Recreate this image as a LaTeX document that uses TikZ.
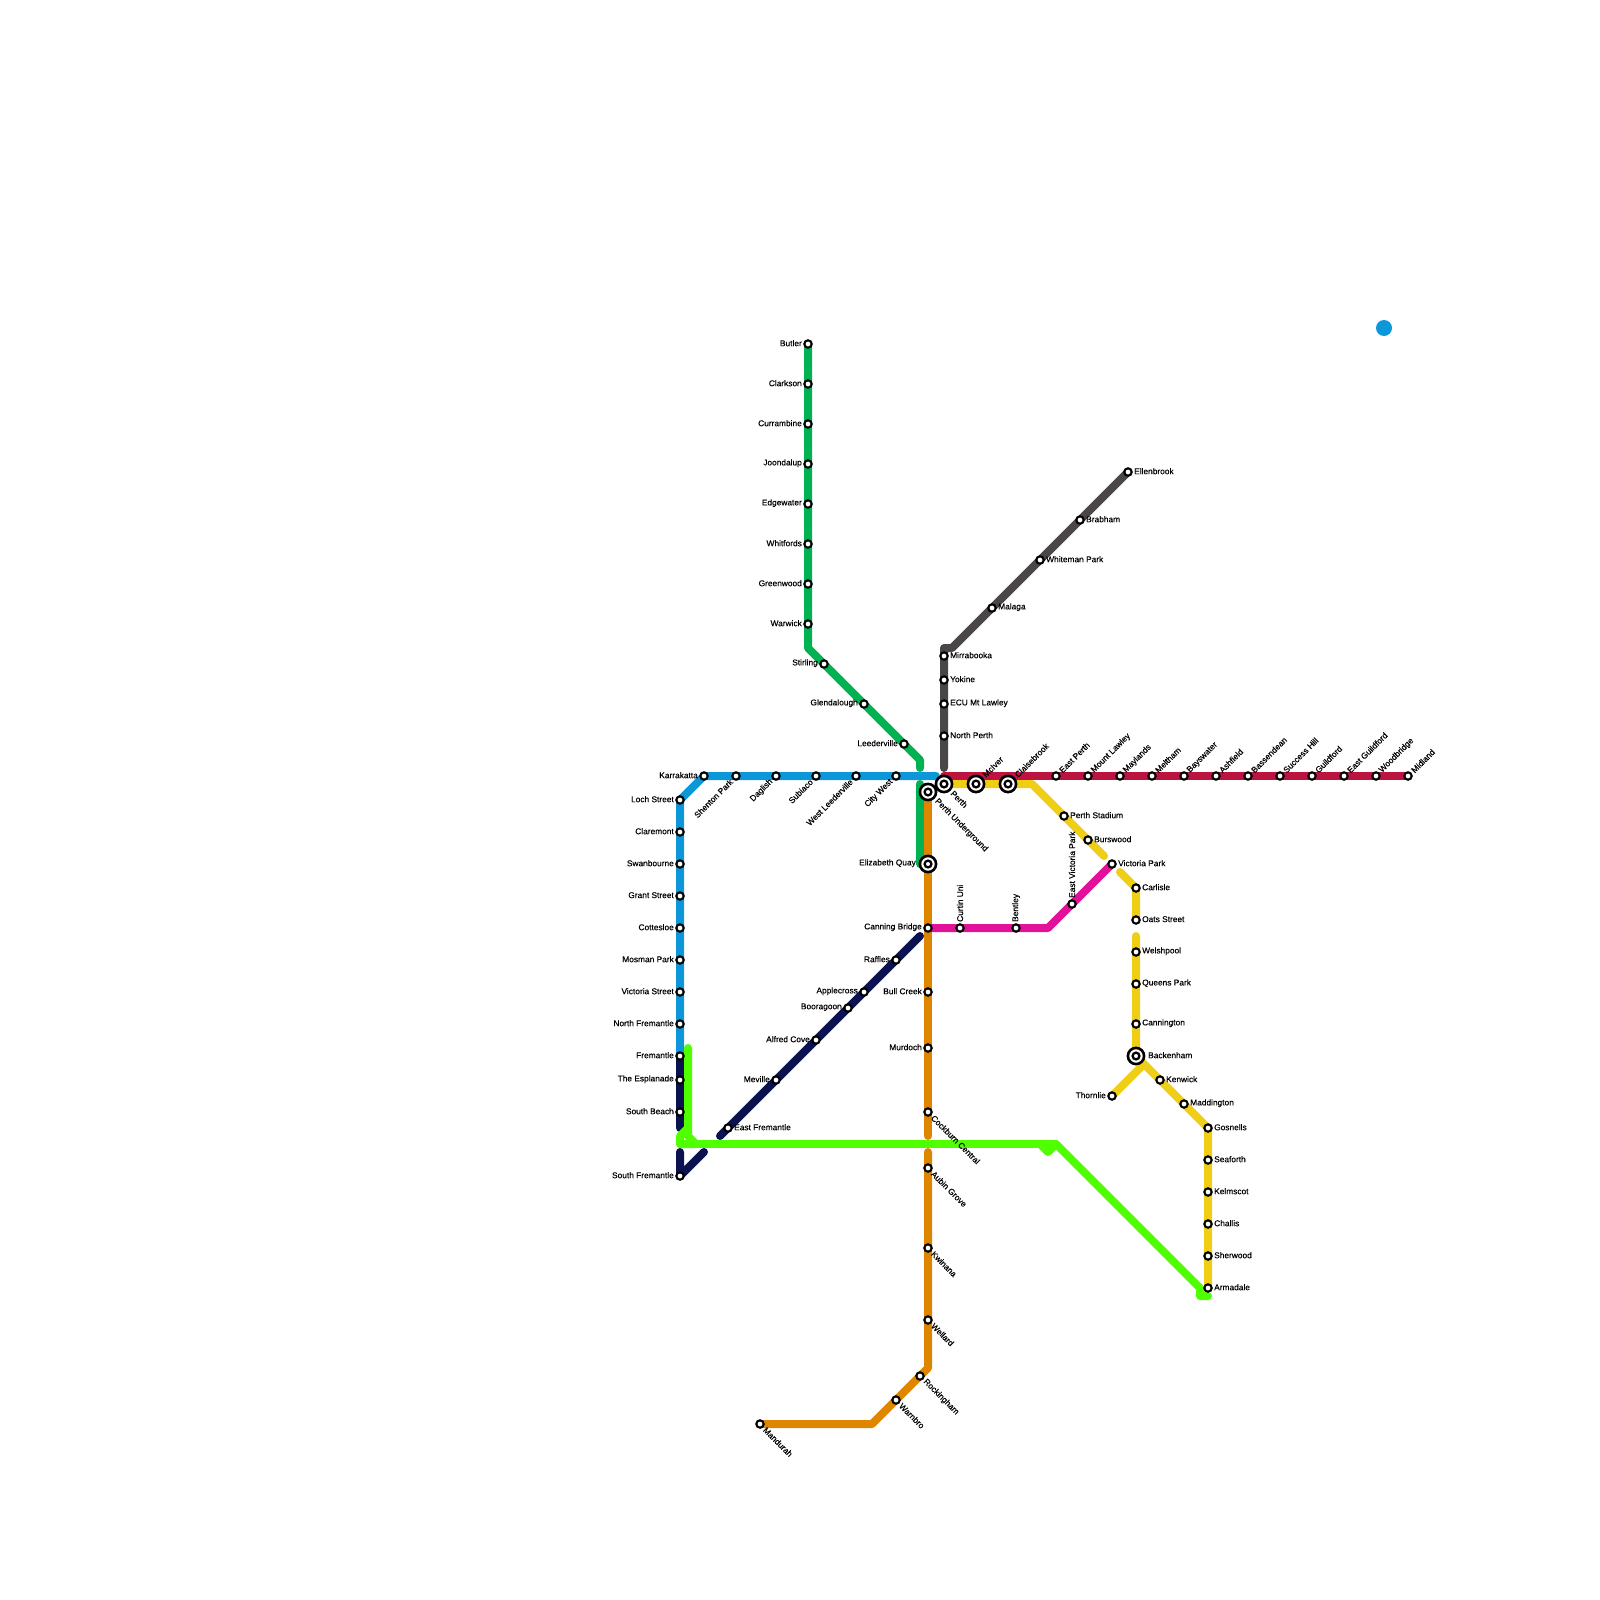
\documentclass[tikz,border=0pt]{standalone}
\usepackage{fontspec}
\setmainfont[FakeBold=0.35]{Liberation Sans}
\definecolor{lgreen}{HTML}{00B251}
\definecolor{lblue}{HTML}{0C98D8}
\definecolor{lred}{HTML}{BC1440}
\definecolor{lyellow}{HTML}{F0CE15}
\definecolor{lgrey}{HTML}{4A4546}
\definecolor{lorange}{HTML}{DF8600}
\definecolor{lmag}{HTML}{E2119A}
\definecolor{lnavy}{HTML}{0A1250}
\definecolor{llime}{HTML}{50FF00}
\tikzset{
 route/.style={line width=8pt,line cap=round,line join=round},
 stn/.style={circle,draw=black,fill=white,line width=2.1pt,minimum size=7.4pt,inner sep=0pt},
 hubo/.style={circle,draw=black,fill=white,line width=2.6pt,minimum size=16.2pt,inner sep=0pt},
 hubi/.style={circle,draw=black,fill=white,line width=2.3pt,minimum size=6.8pt,inner sep=0pt},
 lab/.style={font=\fontsize{8.35}{9}\selectfont,text=black,inner sep=0pt},
 lR/.style={lab,anchor=west,xshift=6pt,yshift=.8pt},
 lL/.style={lab,anchor=east,xshift=-6pt,yshift=.8pt},
 lU/.style={lab,xshift=0pt,yshift=6pt,rotate=90,anchor=west},
 lUR/.style={lab,xshift=4.5pt,yshift=4.5pt,rotate=45,anchor=west},
 lDR/.style={lab,xshift=4.5pt,yshift=-4.5pt,rotate=-45,anchor=west},
 lDL/.style={lab,xshift=-4.5pt,yshift=-4.5pt,rotate=45,anchor=east},
 lURh/.style={lab,xshift=8pt,yshift=8pt,rotate=45,anchor=west},
 lDRh/.style={lab,xshift=8pt,yshift=-8pt,rotate=-45,anchor=west},
}
\newcommand{\pt}[3]{\coordinate (#1) at (#2,#3);}
\newcommand{\st}[3]{\node[stn] (#1m) at (#1) {}; \node[#2] (#1t) at (#1) {#3};}
\newcommand{\hub}[3]{\node[hubo] (#1m) at (#1) {}; \node[hubi] (#1i) at (#1) {}; \node[#2] (#1t) at (#1) {#3};}
\begin{document}
\begin{tikzpicture}[x=1pt,y=-1pt]
\useasboundingbox (0,0) rectangle (1600,1600);
% green
\pt{butler}{808}{344}\pt{clarkson}{808}{384}\pt{currambine}{808}{424}\pt{joondalup}{808}{464}
\pt{edgewater}{808}{504}\pt{whitfords}{808}{544}\pt{greenwood}{808}{584}\pt{warwick}{808}{624}
\pt{gA}{808}{648}\pt{stirling}{824}{664}\pt{glendalough}{864}{704}\pt{leederville}{904}{744}
\pt{gB}{920}{760}\pt{gC}{920}{768}\pt{gD}{920}{784}\pt{gE}{920}{864}
% blue
\pt{karrakatta}{704}{776}\pt{shenton}{736}{776}\pt{daglish}{776}{776}\pt{subiaco}{816}{776}
\pt{westleed}{856}{776}\pt{citywest}{896}{776}\pt{blueend}{936}{776}
\pt{loch}{680}{800}\pt{claremont}{680}{832}\pt{swanbourne}{680}{864}\pt{grant}{680}{896}
\pt{cottesloe}{680}{928}\pt{mosman}{680}{960}\pt{vicst}{680}{992}\pt{northfre}{680}{1024}
\pt{fremantle}{680}{1056}
% navy
\pt{esplanade}{680}{1080}\pt{southbeach}{680}{1112}\pt{nA}{680}{1128}
\pt{nB}{680}{1152}\pt{southfre}{680}{1176}\pt{nC}{704}{1152}
\pt{nD}{720}{1136}\pt{eastfre}{728}{1128}\pt{meville}{776}{1080}\pt{alfred}{816}{1040}
\pt{booragoon}{848}{1008}\pt{applecross}{864}{992}\pt{raffles}{896}{960}\pt{nE}{920}{936}
% lime
\pt{lA}{688}{1048}\pt{lB}{688}{1136}\pt{lC}{696}{1144}\pt{lD}{680}{1144}\pt{lE}{680}{1136}\pt{lF}{688}{1128}
\pt{lG}{1040}{1144}\pt{lH}{1048}{1152}\pt{lI}{1056}{1144}\pt{lJ}{1200}{1288}\pt{lK}{1200}{1296}\pt{lL}{1208}{1296}
% red
\pt{perth}{944}{784}\pt{rA}{944}{776}\pt{eastperth}{1056}{776}\pt{mtlawley}{1088}{776}\pt{maylands}{1120}{776}
\pt{meltham}{1152}{776}\pt{bayswater}{1184}{776}\pt{ashfield}{1216}{776}\pt{bassendean}{1248}{776}
\pt{success}{1280}{776}\pt{guildford}{1312}{776}\pt{eastguild}{1344}{776}\pt{woodbridge}{1376}{776}\pt{midland}{1408}{776}
% yellow
\pt{mciver}{976}{784}\pt{claisebrook}{1008}{784}\pt{yA}{1032}{784}\pt{stadium}{1064}{816}\pt{burswood}{1088}{840}
\pt{yB}{1104}{856}\pt{vicpark}{1112}{864}\pt{yC}{1120}{872}\pt{carlisle}{1136}{888}\pt{oats}{1136}{920}
\pt{yD}{1136}{936}\pt{welshpool}{1136}{952}\pt{queens}{1136}{984}\pt{cannington}{1136}{1024}\pt{backenham}{1136}{1056}
\pt{yE}{1144}{1064}\pt{thornlie}{1112}{1096}\pt{kenwick}{1160}{1080}\pt{maddington}{1184}{1104}\pt{gosnells}{1208}{1128}
\pt{seaforth}{1208}{1160}\pt{kelmscot}{1208}{1192}\pt{challis}{1208}{1224}\pt{sherwood}{1208}{1256}\pt{armadale}{1208}{1288}
% grey
\pt{ellenbrook}{1128}{472}\pt{brabham}{1080}{520}\pt{whiteman}{1040}{560}\pt{malaga}{992}{608}\pt{kA}{952}{648}\pt{kB}{944}{648}
\pt{mirrabooka}{944}{656}\pt{yokine}{944}{680}\pt{ecu}{944}{704}\pt{northperth}{944}{736}\pt{kC}{944}{768}
% orange
\pt{perthu}{928}{792}\pt{equay}{928}{864}\pt{canning}{928}{928}\pt{bullcreek}{928}{992}\pt{murdoch}{928}{1048}
\pt{cockburn}{928}{1112}\pt{oA}{928}{1136}\pt{oB}{928}{1152}\pt{aubin}{928}{1168}\pt{kwinana}{928}{1248}\pt{wellard}{928}{1320}
\pt{oC}{928}{1368}\pt{rockingham}{920}{1376}\pt{warnbro}{896}{1400}\pt{oD}{872}{1424}\pt{mandurah}{760}{1424}
% magenta
\pt{curtin}{960}{928}\pt{bentley}{1016}{928}\pt{mA}{1048}{928}\pt{eastvic}{1072}{904}
\pt{bluedot}{1384}{328}

\draw[route,lnavy] (fremantle)--(nA);
\draw[route,lnavy] (nB)--(southfre)--(nC);
\draw[route,lnavy] (nD)--(nE);
\draw[route,lblue] (blueend)--(karrakatta)--(loch)--(fremantle);
\draw[route,lgreen] (butler)--(gA)--(gB)--(gC);
\draw[route,lgreen] (gD)--(gE);
\draw[route,lgrey] (ellenbrook)--(kA)--(kB)--(kC);
\draw[route,lorange] (perthu)--(oA);
\draw[route,lorange] (oB)--(oC)--(oD)--(mandurah);
\draw[route,lmag] (canning)--(mA)--(vicpark);
\draw[route,lyellow] (perth)--(yA)--(yB);
\draw[route,lyellow] (yC)--(carlisle)--(oats);
\draw[route,lyellow] (yD)--(backenham)--(yE)--(gosnells)--(armadale);
\draw[route,lyellow] (thornlie)--(yE);
\draw[route,lred] (rA)--(midland);
\draw[route,llime] (lA)--(lB)--(lC)--(lD)--(lE)--(lF);
\draw[route,llime] (lD)--(lI);
\draw[route,llime] (lG)--(lH)--(lI)--(lJ)--(lK)--(lL);
\fill[lblue] (bluedot) circle (8pt);

\st{butler}{lL}{Butler}\st{clarkson}{lL}{Clarkson}\st{currambine}{lL}{Currambine}\st{joondalup}{lL}{Joondalup}
\st{edgewater}{lL}{Edgewater}\st{whitfords}{lL}{Whitfords}\st{greenwood}{lL}{Greenwood}\st{warwick}{lL}{Warwick}
\st{stirling}{lL}{Stirling}\st{glendalough}{lL}{Glendalough}\st{leederville}{lL}{Leederville}
\st{karrakatta}{lL}{Karrakatta}\st{shenton}{lDL}{Shenton Park}\st{daglish}{lDL}{Daglish}\st{subiaco}{lDL}{Subiaco}
\st{westleed}{lDL}{West Leederville}\st{citywest}{lDL}{City West}
\st{loch}{lL}{Loch Street}\st{claremont}{lL}{Claremont}\st{swanbourne}{lL}{Swanbourne}\st{grant}{lL}{Grant Street}
\st{cottesloe}{lL}{Cottesloe}\st{mosman}{lL}{Mosman Park}\st{vicst}{lL}{Victoria Street}\st{northfre}{lL}{North Fremantle}
\st{fremantle}{lL}{Fremantle}\st{esplanade}{lL}{The Esplanade}\st{southbeach}{lL}{South Beach}\st{southfre}{lL}{South Fremantle}
\st{eastfre}{lR}{East Fremantle}\st{meville}{lL}{Meville}\st{alfred}{lL}{Alfred Cove}\st{booragoon}{lL}{Booragoon}
\st{applecross}{lL}{Applecross}\st{raffles}{lL}{Raffles}
\st{eastperth}{lUR}{East Perth}\st{mtlawley}{lUR}{Mount Lawley}\st{maylands}{lUR}{Maylands}\st{meltham}{lUR}{Meltham}
\st{bayswater}{lUR}{Bayswater}\st{ashfield}{lUR}{Ashfield}\st{bassendean}{lUR}{Bassendean}\st{success}{lUR}{Success Hill}
\st{guildford}{lUR}{Guildford}\st{eastguild}{lUR}{East Guildford}\st{woodbridge}{lUR}{Woodbridge}\st{midland}{lUR}{Midland}
\st{stadium}{lR}{Perth Stadium}\st{burswood}{lR}{Burswood}\st{vicpark}{lR}{Victoria Park}\st{carlisle}{lR}{Carlisle}
\st{oats}{lR}{Oats Street}\st{welshpool}{lR}{Welshpool}\st{queens}{lR}{Queens Park}\st{cannington}{lR}{Cannington}
\st{thornlie}{lL}{Thornlie}\st{kenwick}{lR}{Kenwick}\st{maddington}{lR}{Maddington}\st{gosnells}{lR}{Gosnells}
\st{seaforth}{lR}{Seaforth}\st{kelmscot}{lR}{Kelmscot}\st{challis}{lR}{Challis}\st{sherwood}{lR}{Sherwood}\st{armadale}{lR}{Armadale}
\st{ellenbrook}{lR}{Ellenbrook}\st{brabham}{lR}{Brabham}\st{whiteman}{lR}{Whiteman Park}\st{malaga}{lR}{Malaga}
\st{mirrabooka}{lR}{Mirrabooka}\st{yokine}{lR}{Yokine}\st{ecu}{lR}{ECU Mt Lawley}\st{northperth}{lR}{North Perth}
\st{canning}{lL}{Canning Bridge}\st{bullcreek}{lL}{Bull Creek}\st{murdoch}{lL}{Murdoch}
\st{cockburn}{lDR}{Cockburn Central}\st{aubin}{lDR}{Aubin Grove}\st{kwinana}{lDR}{Kwinana}\st{wellard}{lDR}{Wellard}
\st{rockingham}{lDR}{Rockingham}\st{warnbro}{lDR}{Warnbro}\st{mandurah}{lDR}{Mandurah}
\st{curtin}{lU}{Curtin Uni}\st{bentley}{lU}{Bentley}\st{eastvic}{lU}{East Victoria Park}
\hub{perth}{lDRh}{Perth}
\hub{perthu}{lDRh}{Perth Underground}
\hub{equay}{lL,xshift=-6pt}{Elizabeth Quay}
\hub{mciver}{lURh}{McIver}
\hub{claisebrook}{lURh}{Claisebrook}
\hub{backenham}{lR,xshift=6pt}{Backenham}
\end{tikzpicture}
\end{document}
